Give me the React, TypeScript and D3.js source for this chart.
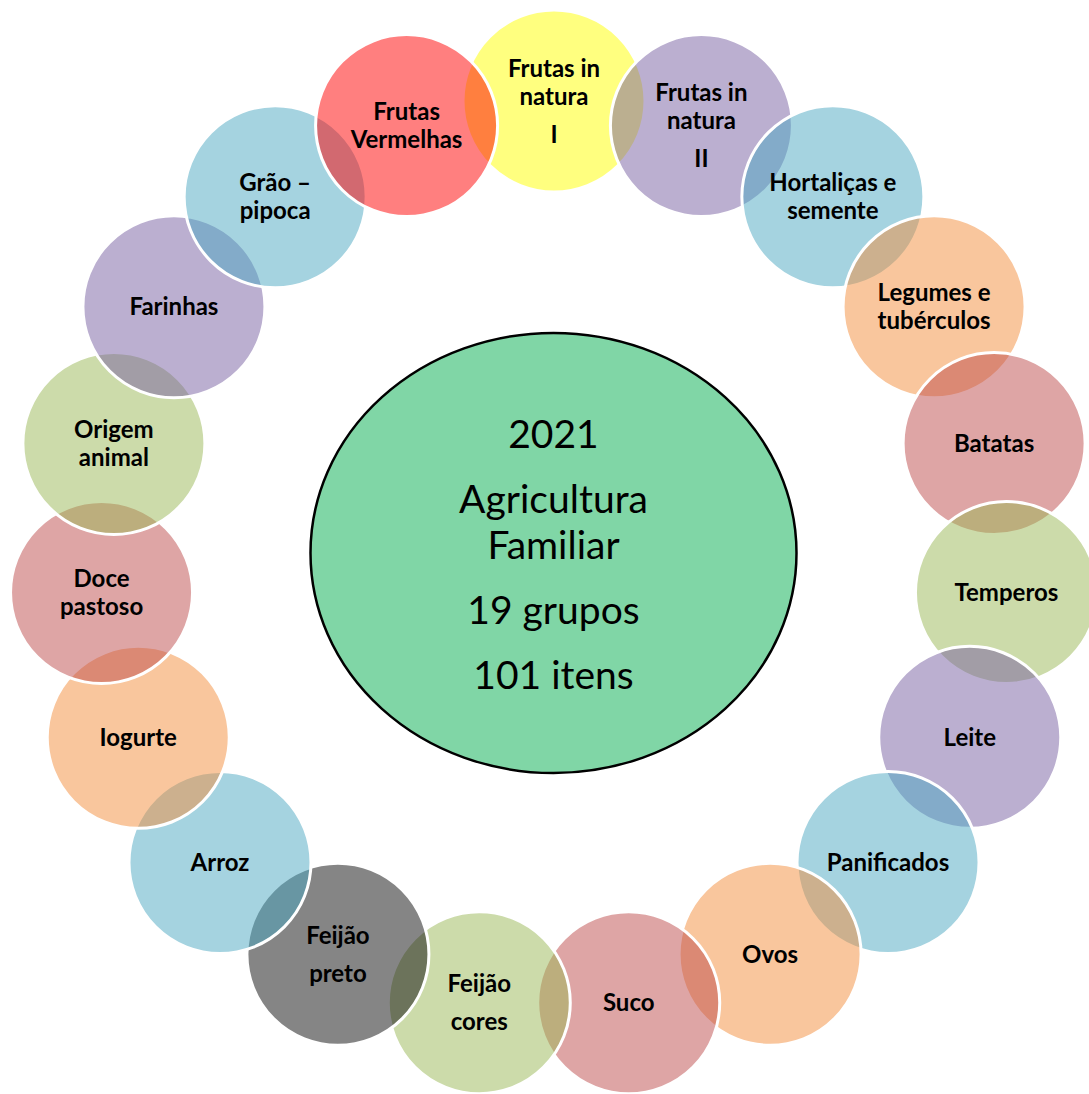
import * as d3 from 'd3';
import React, { useEffect, useRef } from 'react';

// groups around the ring, clockwise from the top; each entry is a list of paragraphs
const groupLabels: string[][][] = [
    [['Frutas in', 'natura'], ['I']],
    [['Frutas in', 'natura'], ['II']],
    [['Hortaliças e', 'semente']],
    [['Legumes e', 'tubérculos']],
    [['Batatas']],
    [['Temperos']],
    [['Leite']],
    [['Panificados']],
    [['Ovos']],
    [['Suco']],
    [['Feijão'], ['cores']],
    [['Feijão'], ['preto']],
    [['Arroz']],
    [['Iogurte']],
    [['Doce', 'pastoso']],
    [['Origem', 'animal']],
    [['Farinhas']],
    [['Grão –', 'pipoca']],
    [['Frutas', 'Vermelhas']],
];

const groupColors: string[] = [
    '#ffff00', '#775fa1', '#4ba7c1', '#f38d3b', '#bd4b4b', '#99b755',
    '#775fa1', '#4ba7c1', '#f38d3b', '#bd4b4b', '#99b755', '#0b0b0b',
    '#4ba7c1', '#f38d3b', '#bd4b4b', '#99b755', '#775fa1', '#4ba7c1',
    '#ff0000',
];

const centerText: string[][] = [
    ['2021'],
    ['Agricultura', 'Familiar'],
    ['19 grupos'],
    ['101 itens'],
];

// returns baseline offsets for a block of paragraphs, centred on 0
function layoutLines(paragraphs: string[][], lineHeight: number, paraGap: number, capHalf: number) {
    const lines: { text: string; y: number }[] = [];
    let y = 0;
    paragraphs.forEach((p, pi) => {
        p.forEach((t, li) => {
            if (lines.length > 0) y += lineHeight + (li === 0 && pi > 0 ? paraGap : 0);
            lines.push({ text: t, y });
        });
    });
    const shift = y / 2;
    return lines.map(l => ({ text: l.text, y: l.y - shift + capHalf }));
}

const App: React.FC = () => {
    const svgRef = useRef<SVGSVGElement | null>(null);

    useEffect(() => {
        const width = 1089;
        const height = 1094;
        const cx = 554;
        const cy = 555;
        const ringR = 454;
        const r = 91;

        d3.select(svgRef.current).selectAll('*').remove();

        const svg = d3
            .select(svgRef.current)
            .attr('width', width)
            .attr('height', height);

        const angle = d3
            .scaleLinear()
            .domain([0, groupLabels.length])
            .range([0, 2 * Math.PI]);

        const nodes = groupLabels.map((label, i) => ({
            label,
            color: groupColors[i],
            x: cx + ringR * Math.sin(angle(i)),
            y: cy - ringR * Math.cos(angle(i)),
        }));

        // later circles sit on top of earlier ones
        const g = svg
            .selectAll('.group')
            .data(nodes)
            .enter()
            .append('g')
            .attr('class', 'group');

        g.append('circle')
            .attr('cx', d => d.x)
            .attr('cy', d => d.y)
            .attr('r', r)
            .attr('fill', d => d.color)
            .attr('fill-opacity', 0.5)
            .attr('stroke', '#ffffff')
            .attr('stroke-width', 3);

        g.each(function (d) {
            const lines = layoutLines(d.label, 28, 10, 8.5);
            d3.select(this)
                .selectAll('text')
                .data(lines)
                .enter()
                .append('text')
                .attr('x', d.x)
                .attr('y', l => d.y + l.y)
                .attr('text-anchor', 'middle')
                .attr('font-family', 'Lato, sans-serif')
                .attr('font-weight', 'bold')
                .attr('font-size', 24)
                .attr('fill', '#000000')
                .text(l => l.text);
        });

        // central ellipse
        svg.append('ellipse')
            .attr('cx', 553.5)
            .attr('cy', 553)
            .attr('rx', 243)
            .attr('ry', 220)
            .attr('fill', '#80d6a6')
            .attr('stroke', '#000000')
            .attr('stroke-width', 2.5);

        const centerLines = layoutLines(centerText, 46, 19, 13.5);
        svg.selectAll('.center-label')
            .data(centerLines)
            .enter()
            .append('text')
            .attr('class', 'center-label')
            .attr('x', 553.5)
            .attr('y', l => 555 + l.y)
            .attr('text-anchor', 'middle')
            .attr('font-family', 'Lato, sans-serif')
            .attr('font-size', 39)
            .attr('fill', '#000000')
            .text(l => l.text);
    }, []);

    return (
        <svg
            ref={svgRef}
            style={{ position: 'absolute', left: 0, top: 0, display: 'block' }}
        ></svg>
    );
};

export default App;
